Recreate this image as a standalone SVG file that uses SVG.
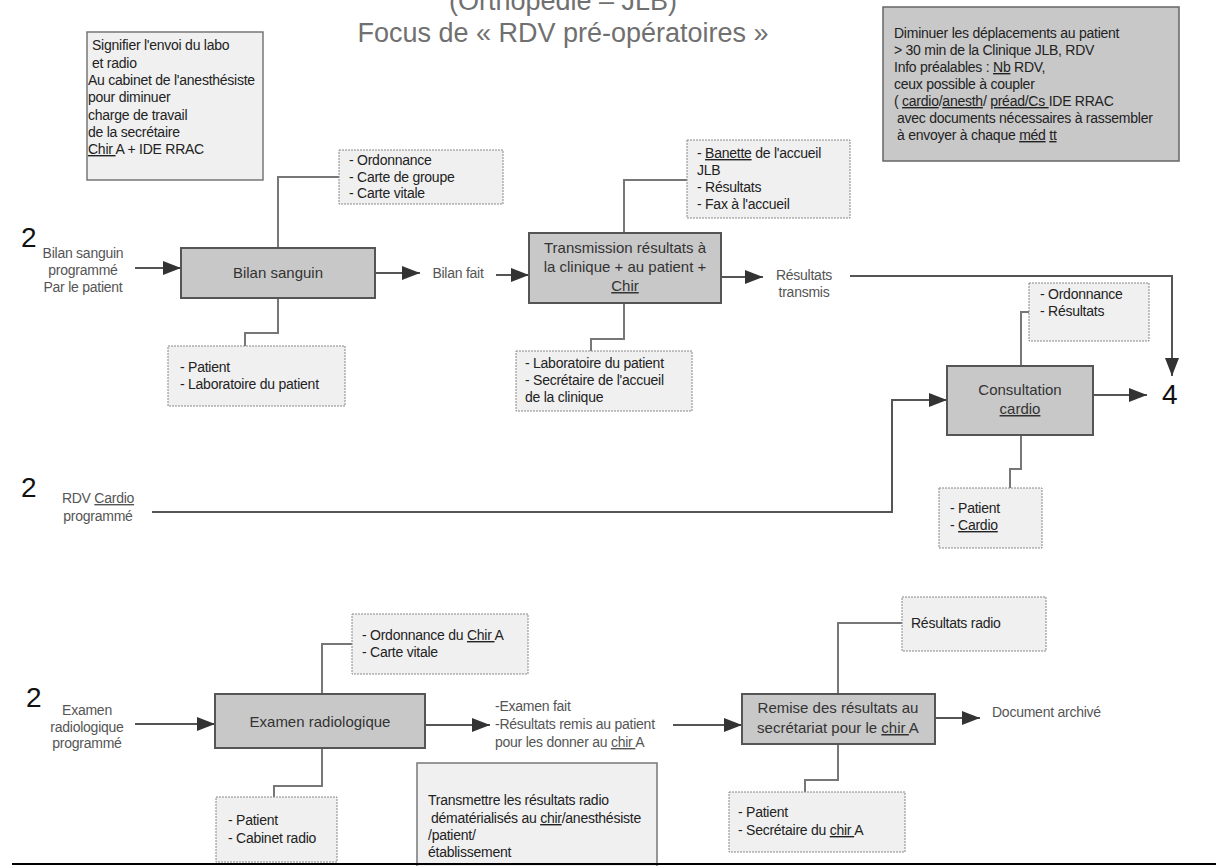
<svg xmlns="http://www.w3.org/2000/svg" width="1216" height="866" viewBox="0 0 1216 866">
<defs>
<style>
text{font-family:"Liberation Sans",Arial,sans-serif;}
.title{font-size:27px;fill:#707070;text-anchor:middle;}
.big{font-size:28px;fill:#111;}
.sm{font-size:14px;fill:#222;letter-spacing:-0.25px;}
.lab{font-size:14px;fill:#555;letter-spacing:-0.25px;}
.node{font-size:15px;fill:#333;text-anchor:middle;}
.u{text-decoration:underline;}
.proc{fill:#c8c8c8;stroke:#555;stroke-width:2;}
.res{fill:#f0f0f0;stroke:#888;stroke-width:1;stroke-dasharray:2 1;}
.note{fill:#f0f0f0;stroke:#777;stroke-width:1.5;}
.note2{fill:#c8c8c8;stroke:#666;stroke-width:1.5;}
.flow{fill:none;stroke:#555;stroke-width:2;}
.conn{fill:none;stroke:#777;stroke-width:2;}
</style>
<marker id="ah" markerUnits="userSpaceOnUse" markerWidth="19" markerHeight="14" refX="18" refY="7" orient="auto">
<path d="M0,0 L18,7 L0,14 z" fill="#333"/>
</marker>
</defs>
<rect width="1216" height="866" fill="#fff"/>

<g id="title">
<text class="title" x="563" y="10">(Orthopédie – JLB)</text>
<text class="title" x="563" y="42">Focus de « RDV pré-opératoires »</text>
</g>

<g id="connectors">
<path class="flow" d="M135,268 H181" marker-end="url(#ah)"/>
<path class="flow" d="M375,273 H420" marker-end="url(#ah)"/>
<path class="flow" d="M496,275 H529" marker-end="url(#ah)"/>
<path class="flow" d="M721,277 H763" marker-end="url(#ah)"/>
<path class="flow" d="M850,276 H1172 V376" marker-end="url(#ah)"/>
<path class="flow" d="M1093,395 H1147" marker-end="url(#ah)"/>
<path class="flow" d="M152,512 H892 V400 H947" marker-end="url(#ah)"/>
<path class="flow" d="M135,724 H215" marker-end="url(#ah)"/>
<path class="flow" d="M425,725 H490" marker-end="url(#ah)"/>
<path class="flow" d="M673,725 H742" marker-end="url(#ah)"/>
<path class="flow" d="M935,718 H980" marker-end="url(#ah)"/>
<path class="conn" d="M278,248 V177 H339"/>
<path class="conn" d="M278,298 V333 H245 V346"/>
<path class="conn" d="M624,233 V180 H687"/>
<path class="conn" d="M624,303 V339 H591 V351"/>
<path class="conn" d="M1021,366 V312 H1029"/>
<path class="conn" d="M1021,435 V469 H1010 V488"/>
<path class="conn" d="M322,694 V644 H352"/>
<path class="conn" d="M322,748 V786 H274 V797"/>
<path class="conn" d="M838,694 V623 H902"/>
<path class="conn" d="M838,744 V780 H805 V792"/>
</g>

<g id="note-left">
<rect class="note" x="87" y="32" width="176" height="148"/>
<text class="sm" x="92" y="50">Signifier l'envoi du labo</text>
<text class="sm" x="92" y="68">et radio</text>
<text class="sm" x="88" y="85">Au cabinet de l'anesthésiste</text>
<text class="sm" x="88" y="102">pour diminuer</text>
<text class="sm" x="88" y="120">charge de travail</text>
<text class="sm" x="88" y="137">de la secrétaire</text>
<text class="sm" x="88" y="154"><tspan class="u">Chir </tspan>A + IDE RRAC</text>
</g>

<g id="note-right">
<rect class="note2" x="883" y="7" width="296" height="154"/>
<text class="sm" x="894" y="38">Diminuer les déplacements au patient</text>
<text class="sm" x="894" y="55">&gt; 30 min de la Clinique JLB, RDV</text>
<text class="sm" x="894" y="72">Info préalables : <tspan class="u">Nb</tspan> RDV,</text>
<text class="sm" x="894" y="89">ceux possible à coupler</text>
<text class="sm" x="894" y="106">( <tspan class="u">cardio</tspan>/<tspan class="u">anesth</tspan>/ <tspan class="u">préad/Cs </tspan>IDE RRAC</text>
<text class="sm" x="897" y="123">avec documents nécessaires à rassembler</text>
<text class="sm" x="897" y="140">à envoyer à chaque <tspan class="u">méd</tspan> <tspan class="u">tt</tspan></text>
</g>

<g id="start-bilan">
<text class="big" x="21" y="247">2</text>
<text class="lab" x="83" y="258" text-anchor="middle">Bilan sanguin</text>
<text class="lab" x="83" y="275" text-anchor="middle">programmé</text>
<text class="lab" x="83" y="292" text-anchor="middle">Par le patient</text>
</g>

<g id="bilan-sanguin">
<rect class="proc" x="181" y="248" width="194" height="50"/>
<text class="node" x="278" y="278">Bilan sanguin</text>
</g>

<g id="res-bilan-top">
<rect class="res" x="339" y="150" width="164" height="54"/>
<text class="sm" x="349" y="165">- Ordonnance</text>
<text class="sm" x="349" y="182">- Carte de groupe</text>
<text class="sm" x="349" y="198">- Carte vitale</text>
</g>

<g id="res-bilan-bottom">
<rect class="res" x="168" y="346" width="177" height="60"/>
<text class="sm" x="180" y="372">- Patient</text>
<text class="sm" x="180" y="389">- Laboratoire du patient</text>
</g>

<g id="bilan-fait">
<text class="lab" x="458" y="278" text-anchor="middle">Bilan fait</text>
</g>

<g id="transmission">
<rect class="proc" x="529" y="233" width="192" height="70"/>
<text class="node" x="625" y="253">Transmission résultats à</text>
<text class="node" x="625" y="272">la clinique + au patient +</text>
<text class="node u" x="625" y="291">Chir</text>
</g>

<g id="res-trans-top">
<rect class="res" x="687" y="140" width="163" height="78"/>
<text class="sm" x="697" y="158">- <tspan class="u">Banette</tspan> de l'accueil</text>
<text class="sm" x="697" y="175">JLB</text>
<text class="sm" x="697" y="192">- Résultats</text>
<text class="sm" x="697" y="209">- Fax à l'accueil</text>
</g>

<g id="res-trans-bottom">
<rect class="res" x="516" y="351" width="176" height="60"/>
<text class="sm" x="525" y="368">- Laboratoire du patient</text>
<text class="sm" x="525" y="385">- Secrétaire de l'accueil</text>
<text class="sm" x="525" y="402">de la clinique</text>
</g>

<g id="resultats-transmis">
<text class="lab" x="804" y="280" text-anchor="middle">Résultats</text>
<text class="lab" x="804" y="297" text-anchor="middle">transmis</text>
</g>

<g id="end-4">
<text class="big" x="1162" y="404">4</text>
</g>

<g id="consultation-cardio">
<rect class="proc" x="947" y="366" width="146" height="69"/>
<text class="node" x="1020" y="395">Consultation</text>
<text class="node u" x="1020" y="414">cardio</text>
</g>

<g id="res-cardio-top">
<rect class="res" x="1029" y="283" width="120" height="58"/>
<text class="sm" x="1040" y="299">- Ordonnance</text>
<text class="sm" x="1040" y="316">- Résultats</text>
</g>

<g id="res-cardio-bottom">
<rect class="res" x="939" y="488" width="103" height="60"/>
<text class="sm" x="950" y="513">- Patient</text>
<text class="sm" x="950" y="530">- <tspan class="u">Cardio</tspan></text>
</g>

<g id="start-cardio">
<text class="big" x="21" y="497">2</text>
<text class="lab" x="98" y="503" text-anchor="middle">RDV <tspan class="u">Cardio</tspan></text>
<text class="lab" x="98" y="521" text-anchor="middle">programmé</text>
</g>

<g id="start-radio">
<text class="big" x="26" y="707">2</text>
<text class="lab" x="87" y="715" text-anchor="middle">Examen</text>
<text class="lab" x="87" y="732" text-anchor="middle">radiologique</text>
<text class="lab" x="87" y="748" text-anchor="middle">programmé</text>
</g>

<g id="examen-radio">
<rect class="proc" x="215" y="694" width="210" height="54"/>
<text class="node" x="320" y="727">Examen radiologique</text>
</g>

<g id="res-radio-top">
<rect class="res" x="352" y="614" width="176" height="60"/>
<text class="sm" x="362" y="640">- Ordonnance du <tspan class="u">Chir </tspan>A</text>
<text class="sm" x="362" y="657">- Carte vitale</text>
</g>

<g id="res-radio-bottom">
<rect class="res" x="216" y="797" width="121" height="65"/>
<text class="sm" x="228" y="825">- Patient</text>
<text class="sm" x="228" y="843">- Cabinet radio</text>
</g>

<g id="examen-fait">
<text class="lab" x="495" y="711">-Examen fait</text>
<text class="lab" x="495" y="729">-Résultats remis au patient</text>
<text class="lab" x="495" y="747">pour les donner au <tspan class="u">chir </tspan>A</text>
</g>

<g id="note-bottom">
<rect class="note" x="417" y="763" width="240" height="110"/>
<text class="sm" x="428" y="805">Transmettre les résultats radio</text>
<text class="sm" x="431" y="823">dématérialisés au <tspan class="u">chir</tspan>/anesthésiste</text>
<text class="sm" x="428" y="840">/patient/</text>
<text class="sm" x="428" y="857">établissement</text>
</g>

<g id="remise">
<rect class="proc" x="742" y="694" width="193" height="50"/>
<text class="node" x="838" y="713">Remise des résultats au</text>
<text class="node" x="838" y="733">secrétariat pour le <tspan class="u">chir </tspan>A</text>
</g>

<g id="res-remise-top">
<rect class="res" x="902" y="597" width="144" height="54"/>
<text class="sm" x="911" y="628">Résultats radio</text>
</g>

<g id="res-remise-bottom">
<rect class="res" x="729" y="792" width="176" height="60"/>
<text class="sm" x="738" y="817">- Patient</text>
<text class="sm" x="738" y="835">- Secrétaire du <tspan class="u">chir </tspan>A</text>
</g>

<g id="document-archive">
<text class="lab" x="992" y="717">Document archivé</text>
</g>

<g id="bottom-rule">
<line x1="12" y1="864" x2="1216" y2="864" stroke="#000" stroke-width="2"/>
</g>
</svg>
